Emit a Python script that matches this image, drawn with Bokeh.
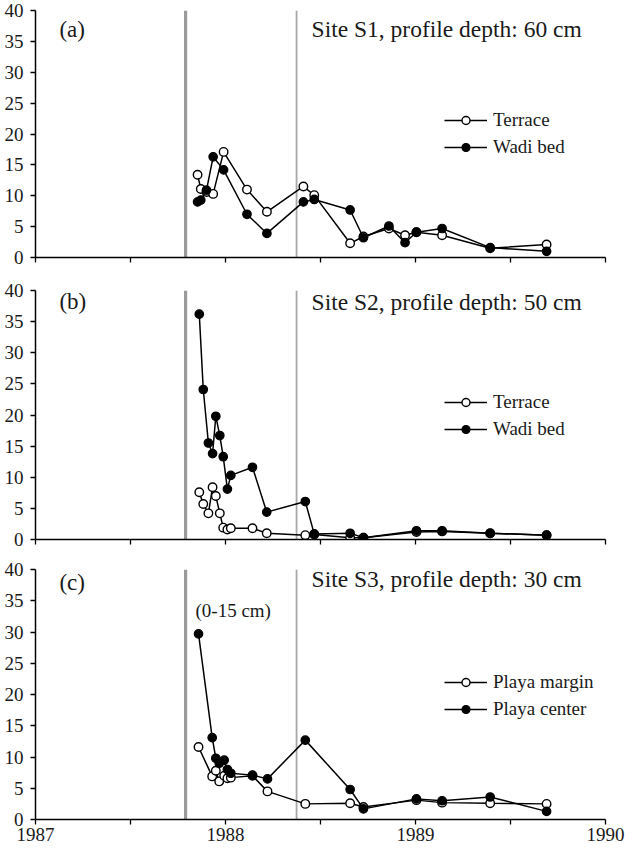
from bokeh.plotting import figure
from bokeh.models import Span, Label, Legend, LegendItem, FixedTicker
from bokeh.layouts import column
from bokeh.embed import file_html
from bokeh.resources import INLINE

# ---------------- data ----------------
year_ticks = [1987, 1988, 1989, 1990]
half_ticks = [1987.5, 1988.5, 1989.5]
y_ticks = [0, 5, 10, 15, 20, 25, 30, 35, 40]
event_major = 1987.79
event_minor = 1988.374

# Site S1
dates_s1 = [1987.853, 1987.870, 1987.900, 1987.935, 1987.990, 1988.113, 1988.218,
            1988.410, 1988.467, 1988.656, 1988.726, 1988.860, 1988.945, 1989.005,
            1989.140, 1989.393, 1989.690]
terrace_s1 = [13.4, 11.1, 10.6, 10.3, 17.1, 11.0, 7.4, 11.5, 10.1, 2.3, 3.4, 4.7,
              3.6, 4.1, 3.6, 1.5, 2.1]
wadi_s1 = [9.0, 9.3, 10.9, 16.3, 14.2, 7.0, 3.9, 9.0, 9.4, 7.7, 3.2, 5.1, 2.4, 4.1,
           4.7, 1.6, 1.0]

# Site S2
dates_s2 = [1987.862, 1987.883, 1987.910, 1987.932, 1987.949, 1987.970, 1987.988,
            1988.010, 1988.028, 1988.142, 1988.217, 1988.420, 1988.467, 1988.656,
            1988.726, 1989.005, 1989.140, 1989.393, 1989.690]
terrace_s2 = [7.6, 5.7, 4.2, 8.4, 7.0, 4.2, 1.9, 1.6, 1.8, 1.8, 1.0, 0.7, 0.8, 0.3,
              0.3, 1.2, 1.3, 1.0, 0.7]
wadi_s2 = [36.2, 24.1, 15.5, 13.8, 19.8, 16.7, 13.3, 8.1, 10.3, 11.6, 4.4, 6.1, 0.9,
           1.0, 0.3, 1.4, 1.4, 1.0, 0.7]

# Site S3
dates_s3 = [1987.858, 1987.930, 1987.949, 1987.967, 1987.993, 1988.010, 1988.028,
            1988.142, 1988.221, 1988.420, 1988.656, 1988.726, 1989.005, 1989.140,
            1989.393, 1989.690]
margin_s3 = [11.6, 6.9, 7.8, 6.1, 7.0, 6.6, 6.7, 7.0, 4.5, 2.5, 2.6, 2.0, 3.1, 2.7,
             2.6, 2.5]
center_s3 = [29.7, 13.1, 9.8, 9.0, 9.5, 8.0, 7.4, 7.1, 6.5, 12.7, 4.8, 1.7, 3.3, 3.0,
             3.6, 1.3]

FONT = "'Liberation Serif', 'Times New Roman', Times, serif"
TXT = "#1a1a1a"


def make_panel(dates, open_vals, filled_vals, open_name, filled_name, tag, title,
               frame_h, b_top, b_bottom, show_labels, tag_y, title_y):
    p = figure(frame_width=570, frame_height=frame_h, x_range=(1987, 1990),
               y_range=(0, 40), output_backend="svg", toolbar_location=None,
               min_border_left=35, min_border_right=20, min_border_top=b_top,
               min_border_bottom=b_bottom)
    p.outline_line_color = None
    p.xgrid.visible = False
    p.ygrid.visible = False
    p.background_fill_color = "white"
    p.border_fill_color = "white"

    for loc, w, c in [(event_major, 3.2, "#9a9a9a"), (event_minor, 1.8, "#a8a8a8")]:
        p.add_layout(Span(location=loc, dimension="height", line_color=c,
                          line_width=w, level="underlay"))

    lo = p.line(dates, open_vals, line_color="black", line_width=1.5)
    so = p.scatter(dates, open_vals, marker="circle", size=8.5, fill_color="white",
                   line_color="black", line_width=1.4)
    lf = p.line(dates, filled_vals, line_color="black", line_width=1.5)
    sf = p.scatter(dates, filled_vals, marker="circle", size=8.5, fill_color="black",
                   line_color="black", line_width=1.2)

    legend = Legend(items=[LegendItem(label=open_name, renderers=[lo, so]),
                           LegendItem(label=filled_name, renderers=[lf, sf])],
                    location=(409, 99))
    legend.padding = 0
    legend.margin = 0
    legend.spacing = 5
    legend.glyph_width = 43
    legend.glyph_height = 20
    legend.label_height = 20
    legend.label_standoff = 6
    legend.border_line_alpha = 0
    legend.background_fill_alpha = 0
    legend.label_text_font = FONT
    legend.label_text_font_size = "19px"
    legend.label_text_color = TXT
    p.add_layout(legend, "center")

    p.add_layout(Label(x=1987.126, y=tag_y, text=tag, text_font=FONT,
                       text_font_size="23px", text_baseline="middle",
                       text_color=TXT))
    p.add_layout(Label(x=1988.453, y=title_y, text=title, text_font=FONT,
                       text_font_size="23.5px", text_baseline="middle",
                       text_color=TXT))

    # axes
    p.xaxis.ticker = FixedTicker(ticks=year_ticks, minor_ticks=half_ticks)
    p.yaxis.ticker = FixedTicker(ticks=y_ticks)
    for ax in (p.xaxis[0], p.yaxis[0]):
        ax.axis_line_color = "black"
        ax.axis_line_width = 1.5
        ax.major_tick_line_color = "black"
        ax.major_tick_line_width = 1.3
        ax.major_tick_in = 0
        ax.major_tick_out = 5
        ax.major_label_text_font = FONT
        ax.major_label_text_font_size = "19px"
        ax.major_label_text_color = TXT
    p.xaxis.minor_tick_line_color = "black"
    p.xaxis.minor_tick_line_width = 1.3
    p.xaxis.minor_tick_in = 0
    p.xaxis.minor_tick_out = 5
    p.yaxis.minor_tick_line_color = None
    p.yaxis.major_label_standoff = 7
    if show_labels:
        p.xaxis.major_label_standoff = 3
    else:
        p.xaxis.major_label_text_font_size = "0px"
        p.xaxis.major_label_text_color = None
        p.xaxis.major_label_standoff = 0
    return p


pa = make_panel(dates_s1, terrace_s1, wadi_s1, "Terrace", "Wadi bed", "(a)",
                "Site S1, profile depth: 60 cm", 247, 10, 16, False, 37.0, 37.0)
pb = make_panel(dates_s2, terrace_s2, wadi_s2, "Terrace", "Wadi bed", "(b)",
                "Site S2, profile depth: 50 cm", 249, 17, 15, False, 38.2, 38.2)
pc = make_panel(dates_s3, margin_s3, center_s3, "Playa margin", "Playa center", "(c)",
                "Site S3, profile depth: 30 cm", 250, 15, 27, True, 37.9, 38.5)
pc.add_layout(Label(x=1987.842, y=33.4, text="(0-15 cm)", text_font=FONT,
                    text_font_size="19px", text_baseline="middle",
                    text_color=TXT))

layout = column(pa, pb, pc, spacing=0)
open("out.html", "w").write(file_html(layout, INLINE))
